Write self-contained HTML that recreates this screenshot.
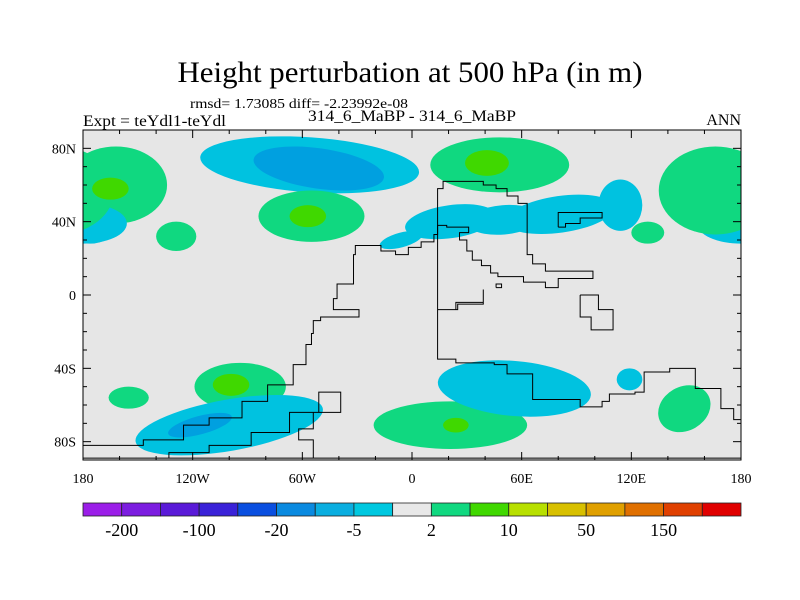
<!DOCTYPE html>
<html><head><meta charset="utf-8"><style>
html,body{margin:0;padding:0;background:#fff;}
svg{display:block;font-family:"Liberation Serif",serif;}
</style></head><body>
<svg id="chart" width="800" height="600" viewBox="0 0 800 600" xmlns="http://www.w3.org/2000/svg">
<text x="410" y="82" font-size="30" text-anchor="middle" textLength="465" lengthAdjust="spacingAndGlyphs">Height perturbation at 500 hPa (in m)</text>
<text x="190" y="108" font-size="14" textLength="218" lengthAdjust="spacingAndGlyphs">rmsd= 1.73085 diff= -2.23992e-08</text>
<text x="83" y="126" font-size="16" textLength="143" lengthAdjust="spacingAndGlyphs">Expt = teYdl1-teYdl</text>
<text x="412" y="121" font-size="16" text-anchor="middle" textLength="208" lengthAdjust="spacingAndGlyphs">314_6_MaBP - 314_6_MaBP</text>
<text x="741" y="125" font-size="16" text-anchor="end">ANN</text>
<defs><clipPath id="plotclip"><rect x="83" y="130" width="658" height="330"/></clipPath></defs>
<rect x="83" y="130" width="658" height="330" fill="#e6e6e6"/>
<g id="fields" clip-path="url(#plotclip)"></g>
<g id="coast" clip-path="url(#plotclip)"></g>
<rect x="83" y="130" width="658" height="330" fill="none" stroke="#000" stroke-width="1"/>
<g id="axes"></g>
<g id="colorbar"></g>
</svg>
<script>
// ---- data ----
const blobLon = [-56,-51,48,41,-162,-165,-55,-57,-129,-176,180,166,129,81,21,-6,114,50,-94,-99,-155,-100,-116,21,24,56,119,149];
const blobLat = [71,69,71,72,60,58,43,43,32,38,39,57,34,44,40,30,49,41,-50,-49,-56,-71,-71,-71,-71,-51,-46,-62];
const blobRx  = [60,36,38,12,28,10,29,10,11,14,24,31,9,30,25,12,12,20,25,10,11,52,18,42,7,42,7,15];
const blobRy  = [15,11,15,7,21,6,14,6,8,10,11,24,6,10,9,4,14,8,13,6,6,14,5,13,4,15,6,12];
const blobRot = [4,8,0,0,0,0,0,0,0,0,0,0,0,-8,-8,-15,0,-5,0,0,0,-10,-15,0,0,5,0,-30];
const blobLevel = [-1,-2,1,2,1,2,1,2,1,-1,-1,1,1,-1,-1,-1,-1,-1,1,2,1,-1,-2,1,2,-1,-1,1];
const levelColor = {"-2":"#00a0e0","-1":"#00c2e0","1":"#10d880","2":"#40d800"};

const coastLines = [
 [[29,62],[17,58],[14,50],[14,33],[14,-35],[24,-37],[45,-38],[52,-43],[66,-57],[92,-61],[104,-58],[108,-54],[122,-53],[127,-42],[141,-40],[155,-51],[169,-62],[176,-68],[180,-82]],
 [[29,62],[39,60],[46,58],[52,54],[58,50],[63,39],[63,22],[66,17],[73,13],[99,11],[99,9],[80,4],[73,7],[61,10],[47,12],[43,16],[38,19],[33,24],[30,30],[26,34],[31,37],[19,38],[14,33],[12,29],[5,26],[0,26],[-2,22],[-9,24],[-17,27],[-23,27],[-31,22],[-32,6],[-41,-2],[-43,-8],[-29,-9],[-29,-12],[-50,-14],[-54,-21],[-55,-27],[-58,-38],[-65,-49],[-79,-58],[-93,-67],[-111,-71],[-125,-79],[-147,-82],[-180,-83]],
 [[-133,-89],[-133,-86],[-111,-82],[-88,-75],[-67,-64],[-51,-53],[-39,-53],[-39,-64],[-54,-73],[-62,-79],[-54,-89]],
 [[14,-8],[24,-4],[39,3],[39,-5],[25,-8],[17,-8]],
 [[80,37],[80,45],[104,45],[104,42],[92,39],[84,37],[80,37]],
 [[92,0],[96,0],[102,-8],[110,-16],[110,-19],[104,-19],[98,-12],[92,-5],[92,0]],
 [[46,4],[49,4],[49,6],[46,6],[46,4]],
 [[-180,-89],[180,-89]]
];
const xTickVals = [-180,-120,-60,0,60,120,180];
const xTickLabels = ["180","120W","60W","0","60E","120E","180"];
const yTickVals = [80,40,0,-40,-80];
const yTickLabels = ["80N","40N","0","40S","80S"];
const cbColors = ["#9b1ee8","#7c1de0","#5a1ad8","#3a22d8","#0a4fe0","#0a8ae0","#0aaee0","#00c8e0","#e8e8e8","#10d880","#40d800","#b8e000","#d8c000","#e0a000","#e07000","#e04000","#e00000"];
const cbLabels = ["-200","-100","-20","-5","2","10","50","150"];

// ---- axis functions ----
const X0=83,X1=741,Y0=130,Y1=460;
const xs = lon => X0 + (lon+180)/360*(X1-X0);
const ys = lat => Y0 + (90-lat)/180*(Y1-Y0);
const kx = (X1-X0)/360, ky=(Y1-Y0)/180;
const NS="http://www.w3.org/2000/svg";
function mk(tag,attrs,parent){const e=document.createElementNS(NS,tag);for(const k in attrs)e.setAttribute(k,attrs[k]);parent.appendChild(e);return e;}

const fields=document.getElementById('fields');
[1,2].forEach(pass=>{
 blobLon.forEach((lon,i)=>{
  if(Math.abs(blobLevel[i])!==pass)return;
  [0,-360,360].forEach(sh=>{
   const cx=xs(lon+sh);
   if(cx+blobRx[i]*kx<X0||cx-blobRx[i]*kx>X1)return;
   const e=mk('ellipse',{cx:cx,cy:ys(blobLat[i]),rx:blobRx[i]*kx,ry:blobRy[i]*ky,fill:levelColor[blobLevel[i]],transform:`rotate(${blobRot[i]} ${cx} ${ys(blobLat[i])})`},fields);
   
   
  });
 });
});

const coast=document.getElementById('coast');
coastLines.forEach(line=>{
 let d='';
 for(let j=0;j<line.length;j++){
  const [lo,la]=line[j];
  if(j===0){d+=`M${xs(lo)},${ys(la)}`;continue;}
  const [plo,pla]=line[j-1];
  d+=` L${xs(lo)},${ys(pla)} L${xs(lo)},${ys(la)}`;
 }
 const p=mk('path',{d:d,fill:'none',stroke:'#000','stroke-width':1},coast);
 
 
});

const axes=document.getElementById('axes');
for(let lon=-180;lon<=180;lon+=20){
 const maj=lon%60===0, L=maj?8:4, x=xs(lon);
 const t1=mk('line',{x1:x,x2:x,y1:Y1,y2:Y1-L,stroke:'#000'},axes);
 
 
 const t2=mk('line',{x1:x,x2:x,y1:Y0,y2:Y0+L,stroke:'#000'},axes);
 
 
}
for(let lat=-90;lat<=90;lat+=10){
 const maj=lat%40===0, L=maj?8:4, y=ys(lat);
 const t1=mk('line',{x1:X0,x2:X0+L,y1:y,y2:y,stroke:'#000'},axes);
 
 
 const t2=mk('line',{x1:X1,x2:X1-L,y1:y,y2:y,stroke:'#000'},axes);
 
 
}
xTickVals.forEach((v,i)=>{
 const t=mk('text',{x:xs(v),y:483,'font-size':14,'text-anchor':'middle'},axes);
 t.textContent=xTickLabels[i];
 
 
});
yTickVals.forEach((v,i)=>{
 const t=mk('text',{x:76,y:ys(v)+5,'font-size':14,'text-anchor':'end'},axes);
 t.textContent=yTickLabels[i];
 
 
});

const cb=document.getElementById('colorbar');
const bw=(X1-X0)/cbColors.length;
cbColors.forEach((c,i)=>{
 const r=mk('rect',{x:X0+i*bw,y:503,width:bw,height:13,fill:c,stroke:'#222','stroke-width':0.8},cb);
 
 
});
cbLabels.forEach((l,i)=>{
 const t=mk('text',{x:X0+(2*i+1)*bw,y:536,'font-size':18,'text-anchor':'middle'},cb);
 t.textContent=l;
 
 
});
</script>
</body></html>
